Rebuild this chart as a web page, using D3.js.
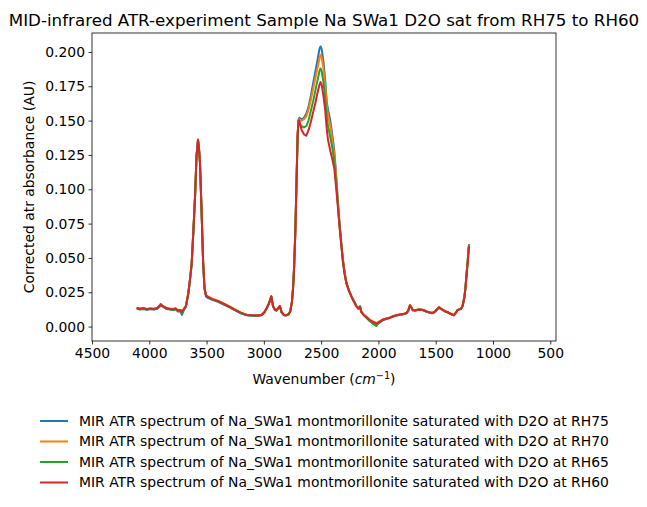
<!DOCTYPE html>
<html><head><meta charset="utf-8">
<script src="https://cdn.jsdelivr.net/npm/d3@7"></script>
<style>body{margin:0;background:#fff}svg{display:block;font-family:"DejaVu Sans",sans-serif}</style>
</head><body>
<script>
const title = "MID-infrared ATR-experiment Sample Na SWa1 D2O sat from RH75 to RH60";
const seriesNames = [
  "MIR ATR spectrum of Na_SWa1 montmorillonite saturated with D2O at RH75",
  "MIR ATR spectrum of Na_SWa1 montmorillonite saturated with D2O at RH70",
  "MIR ATR spectrum of Na_SWa1 montmorillonite saturated with D2O at RH65",
  "MIR ATR spectrum of Na_SWa1 montmorillonite saturated with D2O at RH60"];
const colors = ["#1f77b4","#ff7f0e","#2ca02c","#d62728"];
const xTicks = [4500,4000,3500,3000,2500,2000,1500,1000,500];
const yTicks = [0,0.025,0.05,0.075,0.1,0.125,0.15,0.175,0.2];

const wavenumber = [4110,4080,4050,4020,3990,3960,3930,3900,3880,3850,
3820,3790,3770,3750,3730,3715,3700,3680,3660,3645,
3630,3615,3600,3588,3575,3568,3558,3545,3530,3518,
3505,3485,3450,3400,3350,3300,3250,3200,3150,3100,
3050,3020,2995,2975,2955,2935,2920,2905,2890,2870,
2860,2845,2825,2805,2785,2770,2755,2745,2735,2725,
2715,2705,2697,2690,2670,2650,2630,2610,2590,2570,
2550,2530,2515,2505,2495,2480,2465,2450,2440,2420,
2400,2385,2370,2355,2340,2325,2310,2295,2280,2260,
2235,2210,2192,2175,2160,2150,2130,2100,2076,2050,
2030,2017,2005,1990,1960,1930,1900,1870,1843,1810,
1780,1756,1740,1725,1712,1700,1680,1660,1640,1620,
1600,1580,1560,1540,1523,1505,1490,1470,1455,1435,
1415,1395,1375,1355,1340,1325,1310,1295,1280,1265,
1250,1240,1230,1220,1212,1208];

const rh75 = [.0130,.0124,.0128,.0122,.0127,.0124,.0130,.0152,.0144,.0128,
.0124,.0120,.0126,.0110,.0112,.0085,.0118,.0145,.0235,.0335,
.0455,.0695,.0955,.1235,.1355,.1315,.1195,.0875,.0465,.0275,
.0218,.0208,.0195,.0180,.0160,.0140,.0118,.0097,.0082,.0079,
.0078,.0083,.0102,.0132,.0167,.0217,.0147,.0122,.0115,.0137,
.0147,.0102,.0082,.0080,.0088,.0108,.0178,.0278,.0448,.0700,
.1050,.1400,.1505,.1520,.1510,.1520,.1550,.1600,.1680,.1770,
.1860,.1950,.2020,.2040,.2020,.1930,.1800,.1630,.1580,.1500,
.1380,.1280,.1120,.0930,.0760,.0620,.0490,.0395,.0325,.0272,
.0222,.0180,.0150,.0135,.0145,.0110,.0088,.0062,.0042,.0025,
.0012,.0008,.0018,.0030,.0047,.0055,.0063,.0073,.0080,.0086,
.0090,.0096,.0113,.0152,.0138,.0118,.0116,.0120,.0123,.0120,
.0116,.0108,.0103,.0098,.0098,.0108,.0122,.0138,.0128,.0118,
.0108,.0103,.0093,.0086,.0082,.0098,.0118,.0123,.0128,.0150,
.0212,.0285,.0390,.0485,.0575,.0600];

const rh70 = [.0138,.0132,.0135,.0129,.0134,.0130,.0137,.0160,.0150,.0136,
.0131,.0128,.0134,.0119,.0123,.0112,.0128,.0152,.0242,.0342,
.0462,.0702,.0962,.1242,.1362,.1322,.1202,.0882,.0472,.0283,
.0228,.0218,.0203,.0188,.0168,.0147,.0124,.0102,.0087,.0084,
.0082,.0087,.0107,.0137,.0172,.0222,.0152,.0127,.0120,.0142,
.0152,.0107,.0087,.0084,.0092,.0112,.0182,.0282,.0452,.0702,
.1052,.1402,.1505,.1510,.1500,.1510,.1530,.1580,.1650,.1730,
.1810,.1890,.1950,.1980,.1960,.1880,.1760,.1600,.1540,.1460,
.1350,.1250,.1100,.0920,.0755,.0615,.0488,.0392,.0322,.0270,
.0222,.0180,.0150,.0135,.0145,.0110,.0090,.0068,.0050,.0038,
.0030,.0028,.0032,.0040,.0053,.0060,.0067,.0077,.0084,.0090,
.0094,.0100,.0117,.0157,.0142,.0122,.0120,.0124,.0127,.0124,
.0120,.0112,.0107,.0102,.0102,.0112,.0127,.0142,.0132,.0122,
.0112,.0107,.0097,.0090,.0085,.0102,.0122,.0127,.0132,.0153,
.0215,.0288,.0392,.0488,.0578,.0600];

const rh65 = [.0133,.0127,.0131,.0125,.0129,.0126,.0133,.0165,.0147,.0131,
.0127,.0124,.0130,.0114,.0118,.0095,.0120,.0148,.0238,.0338,
.0458,.0698,.0958,.1238,.1358,.1318,.1198,.0878,.0468,.0278,
.0230,.0212,.0198,.0183,.0163,.0143,.0120,.0099,.0084,.0081,
.0079,.0084,.0104,.0134,.0169,.0219,.0149,.0124,.0117,.0139,
.0149,.0104,.0084,.0081,.0089,.0109,.0179,.0279,.0449,.0700,
.1050,.1400,.1490,.1480,.1460,.1450,.1460,.1500,.1570,.1640,
.1720,.1800,.1860,.1880,.1860,.1780,.1670,.1520,.1460,.1380,
.1290,.1200,.1060,.0900,.0742,.0605,.0480,.0385,.0318,.0266,
.0218,.0177,.0147,.0132,.0150,.0107,.0085,.0060,.0040,.0022,
.0010,.0004,.0022,.0030,.0050,.0057,.0064,.0074,.0081,.0087,
.0091,.0097,.0114,.0154,.0139,.0119,.0117,.0121,.0124,.0121,
.0117,.0109,.0104,.0099,.0099,.0109,.0124,.0139,.0129,.0119,
.0109,.0104,.0094,.0087,.0083,.0099,.0119,.0124,.0129,.0152,
.0213,.0286,.0390,.0486,.0576,.0598];

const rh60 = [.0135,.0130,.0133,.0127,.0131,.0128,.0135,.0158,.0148,.0133,
.0129,.0126,.0132,.0116,.0121,.0108,.0126,.0150,.0240,.0340,
.0460,.0700,.0960,.1240,.1360,.1320,.1200,.0880,.0470,.0280,
.0225,.0215,.0200,.0185,.0165,.0145,.0122,.0100,.0085,.0082,
.0080,.0085,.0105,.0135,.0170,.0220,.0150,.0125,.0118,.0140,
.0150,.0105,.0085,.0082,.0090,.0110,.0180,.0280,.0450,.0700,
.1050,.1400,.1500,.1500,.1430,.1400,.1390,.1430,.1490,.1560,
.1630,.1710,.1760,.1780,.1760,.1680,.1580,.1430,.1360,.1280,
.1210,.1150,.1020,.0880,.0730,.0600,.0470,.0380,.0315,.0265,
.0216,.0175,.0145,.0130,.0140,.0105,.0085,.0065,.0048,.0035,
.0028,.0022,.0025,.0035,.0050,.0058,.0065,.0075,.0082,.0088,
.0092,.0098,.0115,.0155,.0140,.0120,.0118,.0122,.0125,.0122,
.0118,.0110,.0105,.0100,.0100,.0110,.0125,.0140,.0130,.0120,
.0110,.0105,.0095,.0088,.0083,.0100,.0120,.0125,.0130,.0150,
.0210,.0280,.0380,.0470,.0560,.0585];

const series = [rh75, rh70, rh65, rh60];

const W = 647, H = 507;
const m = {left: 92, right: 556, top: 33, bottom: 341};
const svg = d3.select("body").append("svg").attr("width", W).attr("height", H);

const x = d3.scaleLinear().domain([4500, 450]).range([m.left, m.right]);
const y = d3.scaleLinear().domain([-0.0105, 0.2138]).range([m.bottom, m.top]);

const line = d3.line().x((d, i) => x(wavenumber[i])).y(d => y(d));
const g = svg.append("g");
series.forEach((s, k) => {
  g.append("path").datum(s).attr("d", line).attr("fill", "none")
    .attr("stroke", colors[k]).attr("stroke-width", 2).attr("stroke-linejoin", "round");
});

const xAxis = svg.append("g").attr("transform", `translate(0,${m.bottom})`)
  .call(d3.axisBottom(x).tickValues(xTicks).tickFormat(d3.format("d")).tickSizeOuter(0).tickSize(3.5).tickPadding(3.5));
const yAxis = svg.append("g").attr("transform", `translate(${m.left},0)`)
  .call(d3.axisLeft(y).tickValues(yTicks).tickFormat(d3.format(".3f")).tickSizeOuter(0).tickSize(3.5).tickPadding(3.5));
[xAxis, yAxis].forEach(a => {
  a.select(".domain").remove();
  a.selectAll("text").attr("font-size", "13.9px").attr("font-family", "DejaVu Sans").attr("fill", "#000");
  a.selectAll("line").attr("stroke", "#000").attr("stroke-width", 0.8);
});
svg.append("rect").attr("x", m.left).attr("y", m.top)
  .attr("width", m.right - m.left).attr("height", m.bottom - m.top)
  .attr("fill", "none").attr("stroke", "#000").attr("stroke-width", 0.8);

svg.append("text").attr("x", (m.left + m.right) / 2).attr("y", 26)
  .attr("text-anchor", "middle").attr("font-size", "16.7px").text(title);

const xl = svg.append("text").attr("x", (m.left + m.right) / 2).attr("y", 384)
  .attr("text-anchor", "middle").attr("font-size", "13.9px");
xl.append("tspan").text("Wavenumber (");
xl.append("tspan").attr("font-style", "italic").text("cm");
xl.append("tspan").attr("font-size", "9.7px").attr("dy", -5).text("\u22121");
xl.append("tspan").attr("dy", 5).text(")");

svg.append("text").attr("transform", `translate(34,${(m.top + m.bottom) / 2}) rotate(-90)`)
  .attr("text-anchor", "middle").attr("font-size", "13.9px").text("Corrected atr absorbance (AU)");

const legY = [421, 441.5, 462, 482.5];
seriesNames.forEach((n, k) => {
  svg.append("line").attr("x1", 40).attr("x2", 68).attr("y1", legY[k]).attr("y2", legY[k])
    .attr("stroke", colors[k]).attr("stroke-width", 2);
  svg.append("text").attr("x", 79).attr("y", legY[k]).attr("dy", "0.35em")
    .attr("font-size", "13.9px").text(n);
});
</script>
</body></html>
